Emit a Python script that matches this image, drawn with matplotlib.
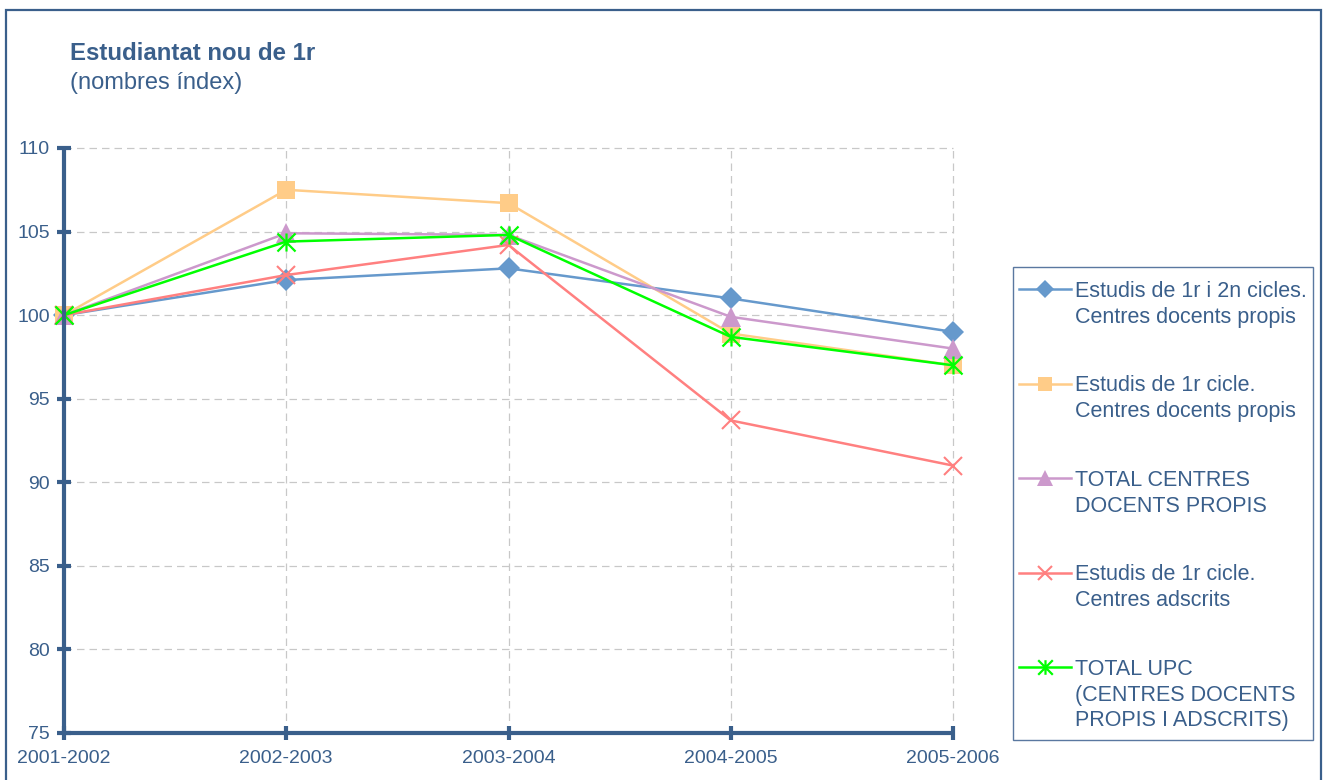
import matplotlib
matplotlib.use("Agg")
import matplotlib.pyplot as plt
from matplotlib.patches import Rectangle
from matplotlib.lines import Line2D
from matplotlib.path import Path

plt.rcParams['font.family'] = ['Liberation Sans', 'DejaVu Sans']

# ---- data ----
categories = ["2001-2002", "2002-2003", "2003-2004", "2004-2005", "2005-2006"]
s_12cicles_propis = [100, 102.1, 102.8, 101.0, 99.0]
s_1cicle_propis = [100, 107.5, 106.7, 98.9, 97.0]
s_total_propis = [100, 104.9, 104.8, 99.9, 98.0]
s_1cicle_adscrits = [100, 102.4, 104.2, 93.7, 91.0]
s_total_upc = [100, 104.4, 104.8, 98.7, 97.0]

labels = [
    ["Estudis de 1r i 2n cicles.", "Centres docents propis"],
    ["Estudis de 1r cicle.", "Centres docents propis"],
    ["TOTAL CENTRES", "DOCENTS PROPIS"],
    ["Estudis de 1r cicle.", "Centres adscrits"],
    ["TOTAL UPC", "(CENTRES DOCENTS", "PROPIS I ADSCRITS)"],
]
yticks = [75, 80, 85, 90, 95, 100, 105, 110]

# ---- styles ----
axcol = '#3A5F8B'
asterisk = Path([(0, -1), (0, 1), (-1, -1), (1, 1), (-1, 1), (1, -1)],
                [Path.MOVETO, Path.LINETO, Path.MOVETO, Path.LINETO, Path.MOVETO, Path.LINETO])
styles = [
    dict(color='#6699CC', marker='D', ms=11.5, mew=0, lms=9),
    dict(color='#FFCC88', marker='s', ms=13, mew=0, lms=10),
    dict(color='#CC99CC', marker='^', ms=14, mew=0, lms=11),
    dict(color='#FF8080', marker='x', ms=13, mew=1.5, lms=10.5),
    dict(color='#00FF00', marker=asterisk, ms=13, mew=1.6, lms=10.5),
]
series = [s_12cicles_propis, s_1cicle_propis, s_total_propis, s_1cicle_adscrits, s_total_upc]

W, H = 1324, 780
fx = lambda x: x / W
fy = lambda y: 1 - y / H

fig = plt.figure(figsize=(W / 100, H / 100), dpi=100)
ax = fig.add_axes([fx(64), fy(733), fx(953) - fx(64), fy(148) - fy(733)])

xs = list(range(len(categories)))
for s, st in zip(series, styles):
    ax.plot(xs, s, color=st['color'], lw=1.8, marker=st['marker'], ms=st['ms'],
            mew=st['mew'], mec=st['color'], mfc=st['color'], clip_on=False, zorder=3)

ax.set_xlim(0, 4)
ax.set_ylim(75, 110)
ax.set_xticks(xs, categories)
ax.set_yticks(yticks)
for sp in ['top', 'right']:
    ax.spines[sp].set_visible(False)
for sp in ['left', 'bottom']:
    ax.spines[sp].set_linewidth(3)
    ax.spines[sp].set_color(axcol)
    ax.spines[sp].set_capstyle('round')
    ax.spines[sp].set_zorder(4)
ax.tick_params(direction='inout', length=10, width=3, color=axcol,
               labelsize=14, labelcolor=axcol)
ax.tick_params(axis='x', pad=7)
ax.tick_params(axis='y', pad=5)
ax.grid(True, linestyle=(0, (6, 4)), color='#C8C8C8', linewidth=0.9)
ax.set_axisbelow(True)
for gl in ax.get_xgridlines() + ax.get_ygridlines():
    gl.set_clip_on(False)

# ---- titles ----
fig.text(fx(70), fy(60), "Estudiantat nou de 1r", fontsize=17.3, fontweight='bold',
         color=axcol, va='baseline', ha='left')
fig.text(fx(70), fy(89), "(nombres índex)", fontsize=17, color=axcol,
         va='baseline', ha='left')

# ---- outer border ----
fig.add_artist(Rectangle((fx(6), -0.05), fx(1321) - fx(6), fy(10) + 0.05,
                         transform=fig.transFigure, fill=False, ec=axcol, lw=1.6))

# ---- legend (manual) ----
fig.add_artist(Rectangle((fx(1013), fy(740)), fx(1313) - fx(1013), fy(267) - fy(740),
                         transform=fig.transFigure, fill=False, ec='#5A78A0', lw=1.0))
for i, (st, lab) in enumerate(zip(styles, labels)):
    yc = 289 + i * 94.5
    fig.add_artist(Line2D([fx(1019), fx(1045), fx(1071)], [fy(yc)] * 3,
                          transform=fig.transFigure, color=st['color'], lw=1.8,
                          marker=st['marker'], ms=st['lms'], mew=st['mew'],
                          mec=st['color'], mfc=st['color'], markevery=[1]))
    for j, line in enumerate(lab):
        fig.text(fx(1075), fy(yc + 7.7 + j * 25.8), line, fontsize=15.5, color=axcol,
                 va='baseline', ha='left')

fig.savefig("out.png", dpi=100)
